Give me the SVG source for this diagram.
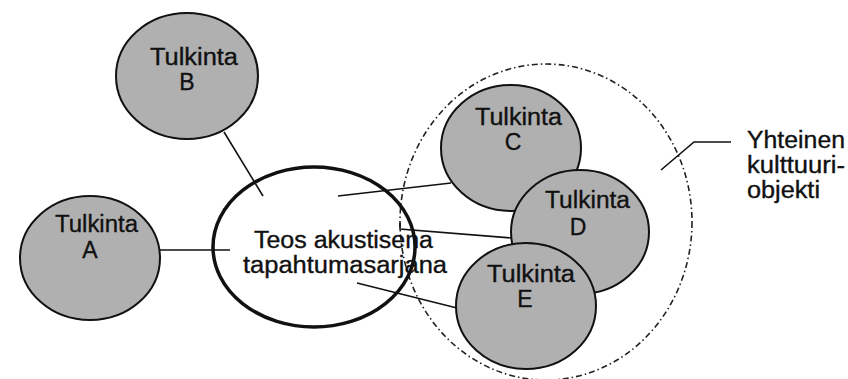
<svg xmlns="http://www.w3.org/2000/svg" width="848" height="379" viewBox="0 0 848 379">
<style>
.bg{fill:#ffffff}
.t{fill:#b0b0b0;stroke:#111;stroke-width:2}
.c{fill:none;stroke:#111;stroke-width:1.6}
.lbl{font-family:"Liberation Sans",Arial,sans-serif;font-size:23px;fill:#111;stroke:#111;stroke-width:0.35;text-anchor:middle}
.lbl2{font-family:"Liberation Sans",Arial,sans-serif;font-size:23px;fill:#111;stroke:#111;stroke-width:0.35}
</style>
<rect class="bg" x="0" y="0" width="848" height="379"/>
<g id="kulttuuriobjekti">
<ellipse cx="546" cy="222" rx="146" ry="158" fill="none" stroke="#222" stroke-width="1.6" stroke-dasharray="6 3 1.5 3"/>
</g>
<g id="connectors">
<line class="c" x1="160" y1="250" x2="230" y2="250"/>
<line class="c" x1="224" y1="132" x2="263" y2="196"/>
<line class="c" x1="338" y1="196" x2="451" y2="183"/>
<path class="c" d="M400,223 L400,229 L512,238"/>
<line class="c" x1="357" y1="283" x2="457" y2="308"/>
<path class="c" d="M661,170 L694,142 L731,142"/>
</g>
<g id="teos">
<ellipse cx="314" cy="247" rx="101" ry="80" fill="none" stroke="#111" stroke-width="3.5"/>
<text class="lbl2" x="254" y="248" textLength="179" lengthAdjust="spacingAndGlyphs">Teos akustisena</text>
<text class="lbl2" x="243" y="273" textLength="204" lengthAdjust="spacingAndGlyphs">tapahtumasarjana</text>
</g>
<g id="tulkinta-b">
<ellipse class="t" cx="187" cy="76" rx="71" ry="63"/>
<text class="lbl" x="194" y="65" textLength="88" lengthAdjust="spacingAndGlyphs">Tulkinta</text>
<text class="lbl" x="187" y="90">B</text>
</g>
<g id="tulkinta-a">
<ellipse class="t" cx="90" cy="258" rx="70" ry="62"/>
<text class="lbl" x="96.5" y="232" textLength="83" lengthAdjust="spacingAndGlyphs">Tulkinta</text>
<text class="lbl" x="90" y="258">A</text>
</g>
<g id="tulkinta-c">
<ellipse class="t" cx="511" cy="148" rx="70" ry="63"/>
<text class="lbl" x="518.5" y="125" textLength="87" lengthAdjust="spacingAndGlyphs">Tulkinta</text>
<text class="lbl" x="513" y="150">C</text>
</g>
<g id="tulkinta-d">
<ellipse class="t" cx="580" cy="232" rx="69" ry="62"/>
<text class="lbl" x="587.5" y="208" textLength="85" lengthAdjust="spacingAndGlyphs">Tulkinta</text>
<text class="lbl" x="578" y="235">D</text>
</g>
<g id="tulkinta-e">
<ellipse class="t" cx="526" cy="306" rx="70" ry="63"/>
<text class="lbl" x="531" y="282" textLength="88" lengthAdjust="spacingAndGlyphs">Tulkinta</text>
<text class="lbl" x="525" y="307">E</text>
</g>
<g id="yhteinen-label">
<text class="lbl2" x="747" y="148" textLength="98" lengthAdjust="spacingAndGlyphs">Yhteinen</text>
<text class="lbl2" x="747" y="173" textLength="98" lengthAdjust="spacingAndGlyphs">kulttuuri-</text>
<text class="lbl2" x="747" y="198" textLength="73" lengthAdjust="spacingAndGlyphs">objekti</text>
</g>
</svg>
